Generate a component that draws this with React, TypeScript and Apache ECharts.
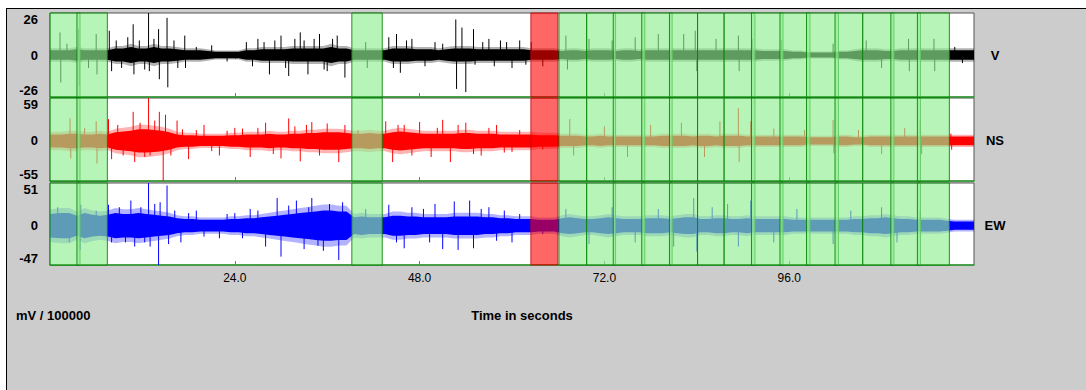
import React, { useEffect, useRef } from "react";
import * as echarts from "echarts";

const FONT = "'Liberation Sans', Arial, Helvetica, sans-serif";
const T_MIN = 0;
const T_MAX = 120;
const xTickValues = [24, 48, 72, 96];

const traceNames = ["V", "NS", "EW"];
const traceColors = ["#000000", "#ff0000", "#0000ff"];
const yMins = [-26, -55, -47];
const yMaxs = [26, 59, 51];

// dense-band half amplitude per second (t = 0..119)
const vCore = [
  3, 3, 3, 3.5, 3, 3, 3, 3,
  4, 4, 5, 4, 4, 5, 4, 4, 3.5,
  3, 3, 3, 2.5, 2, 2, 2, 2,
  3, 3, 3.5, 3.5, 3.5, 3.5,
  4, 4, 4, 4, 4, 5, 4, 4,
  3, 3, 3, 3, 3,
  4, 4, 4, 3.5,
  3.5, 3.5, 3, 3.5,
  4, 4, 4, 3.5,
  3.5, 3.5, 3.5, 3.5, 3.5, 3.5, 3,
  3, 3, 3,
  2.5, 3, 3, 2.5, 3, 3, 3, 2.5, 3, 3, 2.5, 3, 3, 3,
  3, 3, 3, 3, 3, 3, 3, 3, 3, 3, 3, 3, 2.5, 2.5, 2.5, 2.5,
  2, 2, 1.5, 1.5, 1.5, 1.5, 2, 2,
  2.5, 3, 3, 3, 2.5, 2.5, 3, 3, 3, 3, 3, 3, 3,
  3, 3, 3,
];
const nsCore = [
  9, 9, 10, 10, 9, 9, 10, 9,
  12, 13, 14, 16, 16, 15, 14, 12,
  9, 8, 8, 7, 7, 7, 7, 8, 8,
  9, 9, 9, 10, 9, 9, 10, 10, 11, 11,
  12, 12, 12, 11,
  10, 10, 11, 10, 10,
  12, 13, 12, 11,
  10, 10, 10, 10, 10, 11, 11, 10, 10, 10, 9, 9, 9, 9, 9,
  8, 8, 8,
  7, 7, 7, 6, 6, 7, 6, 6, 6, 6, 6, 6, 6, 7,
  7, 7, 7, 6, 7, 7, 6, 7, 7, 7, 6, 6, 6, 6, 6, 6,
  6, 6, 5, 5, 5, 5, 6, 6, 5, 5, 6, 6, 6, 6, 6, 6, 6, 6, 6, 6, 6,
  6, 6, 6,
];
const ewCore = [
  14, 15, 15, 12, 15, 13, 12, 13,
  15, 14, 14, 15, 14, 13, 12, 11,
  9, 8, 8, 7, 7, 7, 7, 8, 8,
  9, 9, 10, 11, 12, 13, 14, 15, 16, 17,
  18, 18, 17, 17,
  10, 11, 10, 10, 10,
  12, 12, 11, 11,
  10, 10, 10, 10, 11, 11, 11, 11, 10, 10, 9, 9, 8, 8, 8,
  7, 7, 7,
  9, 10, 9, 8, 8, 9, 10, 9, 8, 8, 8, 9, 9, 9,
  8, 9, 10, 10, 8, 8, 9, 9, 8, 8, 9, 8, 8, 8, 8, 8,
  7, 7, 7, 7, 7, 7, 7, 7, 8, 8, 9, 9, 10, 9, 8, 8, 7, 7, 7, 7, 6,
  5, 5, 5,
];

// isolated peaks [time, value]
const vSpikes = [
  [1.3, 14], [1.4, -17], [2.2, 7], [3.7, 16], [3.8, -19], [5, -8], [6, 13], [6.1, -12], [7.7, 15], [8, -10],
  [8.6, 9], [9.3, -8], [10.1, 11], [10.8, 19], [10.9, -12], [11.6, 9], [12.3, -9], [12.8, 26], [12.9, -10],
  [13.5, 10], [14.1, 16], [14.2, -15], [15.2, 23], [15.3, -20], [16.1, 9], [16.6, -8],
  [17.5, 12], [17.6, -8], [19, 5], [21, 6], [23, -4], [25.5, 8], [26.3, -7], [27, 10], [27.8, 8], [28.5, -12],
  [29.2, 9], [30, 12], [30.6, -8], [31, -13], [31.8, 10],
  [32.5, 14], [33, 9], [33.5, -12], [34.3, 10], [35, 13], [35.6, -9], [36, -10], [36.7, 10], [37.3, 12], [38.3, -14],
  [41, 8], [41.2, -8], [44, 11], [44.6, -8], [45, 13], [45.5, -11], [46.3, 9], [47, 10], [48.7, -7], [50, 8],
  [51, 7], [52.7, 22], [52.8, -21], [53.5, 17], [54, -23], [55, 16], [55.2, -6], [56.2, 8], [57, 10], [57.7, -7],
  [58.5, 9], [59.3, 8], [60, -8], [61, 9], [61.8, -6], [62.5, 8], [64, -7],
  [67, 12], [67.2, -9], [70, 10], [73, 9], [76, 11], [79, 13], [82.3, 13], [83.8, 15],
  [84, -10], [86.5, 10], [89.4, 12], [89.5, -10], [91.2, 10], [95, 9], [101.7, 7], [106, 9],
  [108, -8], [111.5, 10], [111.6, -10], [114.8, 10], [114.9, -10], [117.5, 5], [118.5, -5],
];
const nsSpikes = [
  [2.6, 31], [2.7, -24], [4.5, 18], [6, 27], [6.1, -31], [7.6, 30], [8, -25], [8.8, 22], [9.5, -20],
  [10.8, 40], [11, -29], [11.7, 25], [12.3, -22],
  [12.8, 59], [13, -20], [13.6, 28], [14.2, 40], [14.7, -55], [15, 36], [15.7, -20], [16.5, 28], [17.2, 16],
  [18, -25], [19, 15], [20, 22], [21, -14],
  [22, -20], [23, 14], [24, 18], [25, 17], [26, -22], [27, 18], [28, 25], [29, -18], [30, -24], [31, 31],
  [31.8, 20], [32.5, -28], [33.3, 22], [34, 26], [35, -20],
  [36, 24], [37.5, -29], [38.3, 22], [40, 15], [43.6, 27], [44.5, -29], [45.2, 22], [46, 22], [47, -20],
  [48, 26], [49.5, -22], [50.3, 18],
  [51, 29], [52, -29], [53, 22], [54, 25], [55, -18], [56, -20], [57, 18], [58, 22], [59, -16], [60, -15],
  [61, 15], [64, -12], [67.5, 30],
  [68, -20], [72, 20], [75, -22], [78, 22], [82, 25], [85, -22], [87, 27], [89.4, 45],
  [89.5, -29], [91, 27], [91.1, -26], [94, 17], [98, 15], [101.7, 29], [101.8, -17], [105, 15],
  [108, -18], [111, 18], [113, 28], [113.2, -18], [117, 10], [117.1, -12],
];
const ewSpikes = [
  [1, 22], [2.5, -20], [3.9, -29], [4, 25], [6, 18], [7.6, 25], [8, -20], [9, 22], [9.8, -20],
  [10.5, 30], [11, -25], [11.8, 22], [12.3, -20],
  [12.8, 51], [13, -25], [13.6, 26], [14.1, -47], [14.3, 28], [15.2, 48], [15.4, -22], [16.2, 18], [17, -20],
  [18, 15], [19, 18], [20, -13],
  [22, -15], [23, 14], [24, 15], [25, -15], [26, 20], [27, 18], [28, -25], [29.5, 33], [30, -37], [31, 24],
  [32, 30], [33, -28], [33.6, 22],
  [34, 33], [34.8, -24], [35.5, -30], [36.3, 26], [37.5, -41], [38, 28], [41, 20], [44, 25], [45, -20],
  [46, -27], [47, 22], [48.5, 20], [49.3, -20],
  [50, 26], [51, -28], [52.5, 29], [53, -29], [54.5, 30], [55, -27], [56, 20], [57, 22], [58, -18], [59, 18],
  [60, -20], [61, 14],
  [64, -10], [67, 20], [70, -22], [73, 22], [76, -20], [79, 20], [81, -25], [83.6, 33],
  [84, -31], [86, 22], [88, 26], [89.4, -25], [91, 30], [94, -20], [97, 20], [101.7, -22],
  [104, 18], [108, 22], [110, -20], [113, 18],
];

const greenWindows = [
  [0, 3.9], [3.5, 7.45], [39.2, 43.15], [66.1, 69.7], [69.7, 73.45], [73.15, 77.25],
  [76.85, 80.8], [80.45, 84.1], [84.1, 87.55], [87.55, 91.55], [91.1, 95.2], [94.8, 98.7],
  [98.25, 102.4], [101.95, 105.55], [105.55, 109.6], [109.2, 113.05], [112.65, 116.8],
];
const redWindows = [[62.45, 65.95]];

const cores = [vCore, nsCore, ewCore];
const spikes = [vSpikes, nsSpikes, ewSpikes];

const gridTops = [13, 98, 183];
const gridHeights = [84, 83, 82];

export default function App() {
  const ref = useRef<HTMLDivElement>(null);
  useEffect(() => {
    if (!ref.current) return;
    const chart = echarts.init(ref.current, undefined, { renderer: "svg" });

    const grids: any[] = [];
    const xAxes: any[] = [];
    const yAxes: any[] = [];
    const series: any[] = [];

    for (let i = 0; i < 3; i++) {
      grids.push({
        left: 50,
        width: 924,
        top: gridTops[i],
        height: gridHeights[i],
        show: true,
        backgroundColor: "#ffffff",
        borderColor: "#555555",
        borderWidth: 1,
      });
      xAxes.push({
        type: "value",
        gridIndex: i,
        position: "bottom",
        min: T_MIN,
        max: T_MAX,
        axisLine: { show: true, onZero: false, lineStyle: { color: "#2e9e2e", width: 1.5 } },
        axisTick: {
          show: true,
          inside: true,
          length: 4,
          customValues: xTickValues,
          lineStyle: { color: "#777777" },
        },
        axisLabel: {
          show: i === 2,
          customValues: xTickValues,
          formatter: (v: number) => v.toFixed(1),
          color: "#000",
          fontSize: 12,
          fontFamily: FONT,
          margin: 7,
        },
        splitLine: { show: false },
      });
      xAxes.push({
        type: "value",
        gridIndex: i,
        position: "top",
        min: T_MIN,
        max: T_MAX,
        axisLine: { show: false },
        axisTick: {
          show: true,
          inside: true,
          length: 4,
          customValues: xTickValues,
          lineStyle: { color: "#777777" },
        },
        axisLabel: { show: false },
        splitLine: { show: false },
      });
      yAxes.push({
        type: "value",
        gridIndex: i,
        min: yMins[i],
        max: yMaxs[i],
        axisLine: { show: false },
        axisTick: { show: false },
        splitLine: { show: false },
        axisLabel: {
          customValues: [yMins[i], 0, yMaxs[i]],
          color: "#000",
          fontWeight: "bold",
          fontSize: 13,
          fontFamily: FONT,
          margin: 12,
          verticalAlignMinLabel: "bottom",
          verticalAlignMaxLabel: "top",
        },
      });

      const core = cores[i];
      const color = traceColors[i];
      // dense band: solid core + faint fringe standing for the dense small peaks
      const band = (scale: number, opacity: number, z: number) => ({
        type: "custom",
        xAxisIndex: i * 2,
        yAxisIndex: i,
        z,
        silent: true,
        encode: { x: 0, y: 1 },
        data: [[0, 0]],
        renderItem: (_p: any, api: any) => {
          const upper: number[][] = [];
          const lower: number[][] = [];
          core.forEach((c, k) => {
            const t = k === 0 ? 0 : k === core.length - 1 ? k + 1 : k + 0.5;
            upper.push(api.coord([t, c * scale]));
            lower.push(api.coord([t, -c * scale]));
          });
          return {
            type: "polygon",
            shape: { points: upper.concat(lower.reverse()) },
            style: { fill: color, opacity, lineWidth: 0 },
          };
        },
      });
      series.push(band(1.4, 0.3, 2));
      series.push(band(1.0, 1, 2));
      // isolated peaks
      series.push({
        type: "custom",
        xAxisIndex: i * 2,
        yAxisIndex: i,
        z: 3,
        silent: true,
        encode: { x: 0, y: 1 },
        data: spikes[i],
        renderItem: (_p: any, api: any) => {
          const a = api.coord([api.value(0), 0]);
          const b = api.coord([api.value(0), api.value(1)]);
          return {
            type: "line",
            shape: { x1: a[0], y1: a[1], x2: b[0], y2: b[1] },
            style: { stroke: color, lineWidth: 1 },
          };
        },
      });

      const yMin = yMins[i];
      const yMax = yMaxs[i];
      const mk = (wins: number[][], fill: string, stroke: string, z: number) => ({
        type: "custom",
        xAxisIndex: i * 2,
        yAxisIndex: i,
        z,
        silent: true,
        encode: { x: [0, 1], y: 2 },
        data: wins.map((w) => [w[0], w[1], 0]),
        renderItem: (_p: any, api: any) => {
          const p0 = api.coord([api.value(0), yMax]);
          const p1 = api.coord([api.value(1), yMin]);
          return {
            type: "rect",
            shape: { x: p0[0], y: p0[1], width: p1[0] - p0[0], height: p1[1] - p0[1] },
            style: { fill, stroke, lineWidth: 1 },
          };
        },
      });
      series.push(mk(greenWindows, "rgba(144,238,144,0.65)", "rgba(0,128,0,0.85)", 5));
      series.push(mk(redWindows, "rgba(255,0,0,0.6)", "rgba(200,0,0,0.8)", 6));
    }

    const labelYs = [55, 140, 225];
    const graphic: any[] = [
      { type: "rect", shape: { x: 0, y: 0, width: 1086, height: 8 }, style: { fill: "#fff" }, silent: true },
      { type: "rect", shape: { x: 0, y: 0, width: 6, height: 390 }, style: { fill: "#fff" }, silent: true },
      { type: "line", shape: { x1: 6, y1: 8.5, x2: 1086, y2: 8.5 }, style: { stroke: "#000", lineWidth: 1 }, silent: true },
      { type: "line", shape: { x1: 6.5, y1: 8, x2: 6.5, y2: 390 }, style: { stroke: "#000", lineWidth: 1 }, silent: true },
      ...traceNames.map((n, i) => ({
        type: "text",
        x: 995,
        y: labelYs[i],
        style: {
          text: n,
          fill: "#000",
          font: `bold 13px ${FONT}`,
          textAlign: "center",
          textVerticalAlign: "middle",
        },
        silent: true,
      })),
      {
        type: "text",
        x: 16,
        y: 315,
        style: { text: "mV / 100000", fill: "#000", font: `bold 13px ${FONT}`, textAlign: "left", textVerticalAlign: "middle" },
        silent: true,
      },
      {
        type: "text",
        x: 522,
        y: 315,
        style: { text: "Time in seconds", fill: "#000", font: `bold 13px ${FONT}`, textAlign: "center", textVerticalAlign: "middle" },
        silent: true,
      },
    ];

    chart.setOption({
      animation: false,
      backgroundColor: "#cccccc",
      grid: grids,
      xAxis: xAxes,
      yAxis: yAxes,
      series,
      graphic,
    });
    return () => chart.dispose();
  }, []);
  return (
    <div
      ref={ref}
      style={{ position: "fixed", left: 0, top: 0, width: 1086, height: 390 }}
    />
  );
}
